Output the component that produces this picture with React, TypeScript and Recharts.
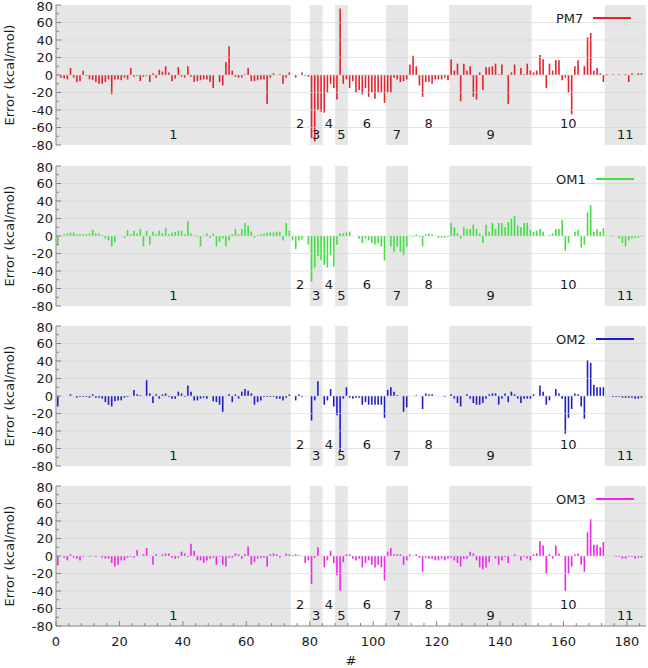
import React from 'react';
import { ComposedChart, Bar, XAxis, YAxis, ReferenceArea, ReferenceLine, ReferenceDot, Legend } from 'recharts';

// error per system (kcal/mol), one value per entry
const pm7 = [
  1, -3, -4, -5, 8, -3, -8, -7, 5, -1, -5, -6, -8, -10, -10, -8, -5, -22, -5, -5,
  -6, -3, -5, 8, -2, -1, -7, -2, -1, -8, 2, -3, 6, 4, 10, 3, -7, -4, 9, -2,
  -3, 10, -2, -8, -7, -6, -5, -5, -8, -15, 0, -8, -12, 15, 33, 5, -2, -3, -3, 1,
  8, -7, -7, -6, -5, -5, -33, -3, 2, 0, 1, -10, -3, 3, 0, -3, 0, 3, -1, -2,
  -72, -76, -40, -42, -43, -20, -10, -15, -28, 76, -10, -5, -15, -7, -20, -17, -22, -15, -25, -20,
  -27, -20, -20, -32, -20, -20, -3, -5, -8, -7, -5, 12, 22, 10, -12, -25, -8, -8, -10, -5,
  -5, -5, -3, -6, 18, 5, 13, -30, 13, 5, 10, -25, -28, 3, -17, 9, 9, 10, 13, 1,
  12, 0, -33, 3, 12, 0, 8, 1, 13, 5, 3, 5, 23, 18, -15, 13, 5, 17, 17, -6,
  -3, -20, -45, 10, 17, 0, 10, 43, 48, 5, 8, 2, -8, 1, 0, 1, 0, 1, 0, 1,
  -8, 2, 0, 2, 2,
];

const om1 = [
  -10, 1, 2, 3, 4, 4, 2, 2, 2, 2, 3, 7, 3, 3, 1, -3, -5, -12, -7, 0,
  0, -2, 7, 2, 6, 3, 8, -12, 6, -10, 5, 2, 6, 3, 9, 2, 4, 5, 6, 6,
  2, 17, 3, 1, -1, -12, 0, 3, -2, 3, -12, -7, -3, -12, -5, 2, 8, 2, 8, 15,
  12, 5, -2, 1, 2, 3, 4, 4, 4, 5, 5, -5, 15, 6, -5, -15, -5, -4, 0, -10,
  -52, -36, -23, -27, -33, -36, -22, -35, -10, 3, 3, 4, 5, 0, 0, -3, -8, -3, -5, -8,
  -10, -8, -12, -28, 0, -12, -18, -12, -18, -22, -12, 0, -1, 2, -1, -12, 2, 3, 2, 0,
  -2, -2, -2, -1, 15, 10, 3, -3, 10, 8, 8, 13, 8, 3, -8, 13, 5, 15, 8, 15,
  15, 10, 16, 20, 23, 12, 10, 15, 15, 7, 5, 6, 8, 5, 0, 1, 3, 8, 8, 18,
  -17, -8, 0, 5, 7, -13, -10, 27, 35, 5, 8, 5, 9, 0, 0, 1, 0, -3, -8, -12,
  -5, -3, -2, -2, -1,
];

const om2 = [
  -12, 0, 0, 0, 2, 0, -2, -1, -1, -1, -2, 2, -2, -2, -3, -7, -10, -12, -6, -5,
  -5, -2, -1, 0, 7, 2, 1, 0, 18, 3, -8, 2, -3, 2, 3, -1, -3, -3, 5, 3,
  -1, 12, 5, -5, -5, -3, -2, -3, 0, -6, -7, -10, -18, 0, 2, -7, 2, -3, 5, 8,
  6, 3, -10, -7, -5, -1, -1, -1, -1, -3, -3, -5, -2, 2, 0, -5, 2, -1, 0, 0,
  -28, -5, 17, 0, -10, -5, 8, -12, -22, -63, -3, 10, -2, -3, -2, -2, -10, -7, -10, -10,
  -10, -10, -10, -25, 7, 10, 5, 1, 0, -18, -13, 0, 0, 1, 0, -15, 3, 2, 2, 0,
  0, 0, -1, 0, 2, -3, -8, -12, 0, 2, -3, -8, -10, -10, -8, -3, 2, 3, 3, -10,
  -3, 3, -7, 5, 2, -3, -8, -3, -3, -3, 2, 0, 12, 5, -10, -5, 0, 8, 3, -3,
  -43, -25, -15, 3, 2, -12, -26, 41, 38, 13, 10, 10, 10, 0, 0, -1, -1, -1, -2, -2,
  -2, -2, -3, -3, -2,
];

const om3 = [
  -10, 0, -2, -5, 2, -2, -3, -5, -1, 0, -1, 0, -1, 0, -2, -3, -3, -8, -12, -10,
  -5, -5, -2, -1, -2, 7, 0, 2, 9, 0, -10, 2, 0, 2, 3, 3, -2, -3, -2, 5,
  3, -1, 14, 6, -5, -5, -8, -5, -3, -2, -10, -1, -10, -12, -2, -2, 3, 2, -3, 2,
  11, -10, -7, -3, -2, -2, -12, 2, 3, 2, -2, 0, 3, 2, 1, 2, 1, 0, -8, -5,
  -32, -2, 10, 0, -13, -5, 6, -8, -22, -40, -7, 2, 2, -3, -5, -3, -13, -8, -5, -10,
  -13, -10, -13, -28, 5, 9, 2, 2, 2, -10, -5, 2, 0, 2, -2, -18, -2, -3, -3, -5,
  -5, -3, -5, -3, -2, -5, -8, -12, -3, -3, 5, 3, -5, -13, -15, -13, -7, 0, -3, -10,
  -5, -1, -8, 0, 2, 0, -5, -1, -3, -5, 2, 3, 17, 12, -20, 2, -3, 12, 3, 0,
  -40, -20, -12, 2, 3, -10, -18, 27, 42, 13, 13, 10, 16, 0, 0, 0, -1, -1, -3, -3,
  -1, -1, -3, -2, -2,
];

// subset boundaries on the # axis and their labels
const regionBounds = [0, 74, 80, 84, 88, 92, 104, 111, 124, 150, 173, 186];
const regionLabels = ['1', '2', '3', '4', '5', '6', '7', '8', '9', '10', '11'];

const xTickLabels = [0, 20, 40, 60, 80, 100, 120, 140, 160, 180];
const yTickLabels = [-80, -60, -40, -20, 0, 20, 40, 60, 80];

const rows = pm7.map((v, i) => ({ x: i + 0.5, PM7: v, OM1: om1[i], OM2: om2[i], OM3: om3[i] }));

const FONT = '"DejaVu Sans", Verdana, sans-serif';
const FRAME = '#858585';
const TEXT = '#1a1a1a';
const SHADE = '#e6e6e6';
const PAD = 10;

const xMinor = Array.from({ length: 47 }, (_, i) => i * 4);
const yMinor = Array.from({ length: 17 }, (_, i) => -80 + i * 10);
const xMax = regionBounds[regionBounds.length - 1];

const panels = [
  { key: 'PM7', color: '#e4232b', top: 5 },
  { key: 'OM1', color: '#41e041', top: 166 },
  { key: 'OM2', color: '#1e1ec8', top: 326 },
  { key: 'OM3', color: '#ee26ee', top: 486 },
];

const LeftTick = (p: any) => {
  const v = p.payload.value;
  const major = yTickLabels.includes(v);
  return (
    <g>
      <line x1={p.x} x2={p.x + (major ? 5 : 3)} y1={p.y} y2={p.y} stroke={FRAME} />
      {major && (
        <text x={p.x - 3} y={p.y + (v === 80 ? 1 : 0)} textAnchor="end" dominantBaseline="central" fontSize={13} fontFamily={FONT} fill={TEXT}>
          {v}
        </text>
      )}
    </g>
  );
};

const RightTick = (p: any) => {
  const major = yTickLabels.includes(p.payload.value);
  return <line x1={p.x} x2={p.x - (major ? 5 : 3)} y1={p.y} y2={p.y} stroke={FRAME} />;
};

const TopTick = (p: any) => {
  const major = xTickLabels.includes(p.payload.value);
  return <line x1={p.x} x2={p.x} y1={p.y} y2={p.y + (major ? 5 : 3)} stroke={FRAME} />;
};

const BottomTick = (p: any) => {
  const v = p.payload.value;
  const major = xTickLabels.includes(v);
  return (
    <g>
      <line x1={p.x} x2={p.x} y1={p.y} y2={p.y - (major ? 5 : 3)} stroke={FRAME} />
      {p.showLabel && major && (
        <text x={p.x} y={p.y + 20} textAnchor="middle" fontSize={13} fontFamily={FONT} fill={TEXT}>
          {v}
        </text>
      )}
    </g>
  );
};

const Panel = ({ dataKey, color, top, showX }: { dataKey: string; color: string; top: number; showX: boolean }) => {
  const topPad = Math.min(PAD, top);
  const height = showX ? topPad + 140 + 42 : topPad + 140 + PAD;
  return (
    <div style={{ position: 'absolute', left: 0, top: top - topPad }}>
      <ComposedChart width={648} height={height} data={rows} margin={{ top: topPad, right: 2, bottom: showX ? 0 : PAD, left: 0 }}>
        <XAxis
          dataKey="x"
          type="number"
          domain={[0, xMax]}
          allowDataOverflow
          ticks={xMinor}
          interval={0}
          tickSize={0}
          tickMargin={0}
          tickLine={false}
          axisLine={{ stroke: FRAME }}
          height={showX ? 42 : 0}
          tick={(p: any) => <BottomTick {...p} showLabel={showX} />}
          label={
            showX
              ? (lp: any) => (
                  <text x={lp.viewBox.x + lp.viewBox.width / 2} y={lp.viewBox.y + 39} textAnchor="middle" fontSize={13} fontFamily={FONT} fill={TEXT}>
                    #
                  </text>
                )
              : undefined
          }
        />
        <XAxis
          xAxisId="top"
          orientation="top"
          type="number"
          domain={[0, xMax]}
          allowDataOverflow
          ticks={xMinor}
          interval={0}
          tickSize={0}
          tickMargin={0}
          tickLine={false}
          axisLine={{ stroke: FRAME }}
          height={0}
          tick={TopTick}
        />
        <YAxis
          type="number"
          domain={[-80, 80]}
          allowDataOverflow
          ticks={yMinor}
          interval={0}
          tickSize={0}
          tickMargin={0}
          tickLine={false}
          axisLine={{ stroke: FRAME }}
          width={56}
          tick={LeftTick}
          label={(lp: any) => {
            const cy = lp.viewBox.y + lp.viewBox.height / 2;
            return (
              <text x={9} y={cy} transform={`rotate(-90, 9, ${cy})`} textAnchor="middle" dominantBaseline="central" fontSize={13} fontFamily={FONT} fill={TEXT}>
                Error (kcal/mol)
              </text>
            );
          }}
        />
        <YAxis
          yAxisId="right"
          orientation="right"
          type="number"
          domain={[-80, 80]}
          allowDataOverflow
          ticks={yMinor}
          interval={0}
          tickSize={0}
          tickMargin={0}
          tickLine={false}
          axisLine={{ stroke: FRAME }}
          width={0}
          tick={RightTick}
        />
        {regionLabels.map((_, i) =>
          i % 2 === 0 ? (
            <ReferenceArea key={`s${i}`} x1={regionBounds[i]} x2={regionBounds[i + 1]} fill={SHADE} fillOpacity={1} stroke="none" />
          ) : null
        )}
        {yTickLabels
          .filter((v) => v > -80 && v < 80)
          .map((v) => (
            <ReferenceLine key={`g${v}`} y={v} stroke="#d4d4d4" strokeWidth={0.6} />
          ))}
        <Bar dataKey={dataKey} name={dataKey} fill={color} barSize={1.6} isAnimationActive={false} />
        {regionLabels.map((lab, i) => (
          <ReferenceDot
            key={`l${i}`}
            x={(regionBounds[i] + regionBounds[i + 1]) / 2}
            y={i % 2 === 0 ? -68 : -55}
            r={0}
            fill="none"
            stroke="none"
            label={{ value: lab, position: 'center', fontSize: 13, fontFamily: FONT, fill: TEXT }}
          />
        ))}
        <Legend
          layout="horizontal"
          verticalAlign="middle"
          align="center"
          wrapperStyle={{ top: topPad + 5, left: 556, width: 90, height: 16 }}
          content={(lp: any) => {
            const item = lp.payload && lp.payload[0];
            const name = item ? item.value : dataKey;
            const c = item ? item.color : color;
            return (
              <div style={{ display: 'flex', alignItems: 'center', height: 16, fontFamily: FONT, fontSize: 13, color: TEXT }}>
                <span>{name}</span>
                <span style={{ display: 'inline-block', width: 38, height: 2, background: c, marginLeft: 10 }} />
              </div>
            );
          }}
        />
      </ComposedChart>
    </div>
  );
}

export default function App() {
  return (
    <div style={{ position: 'absolute', left: 0, top: 0, width: 648, height: 668, overflow: 'hidden', background: '#fff' }}>
      {panels.map((p, i) => (
        <Panel key={p.key} dataKey={p.key} color={p.color} top={p.top} showX={i === panels.length - 1} />
      ))}
    </div>
  );
}
